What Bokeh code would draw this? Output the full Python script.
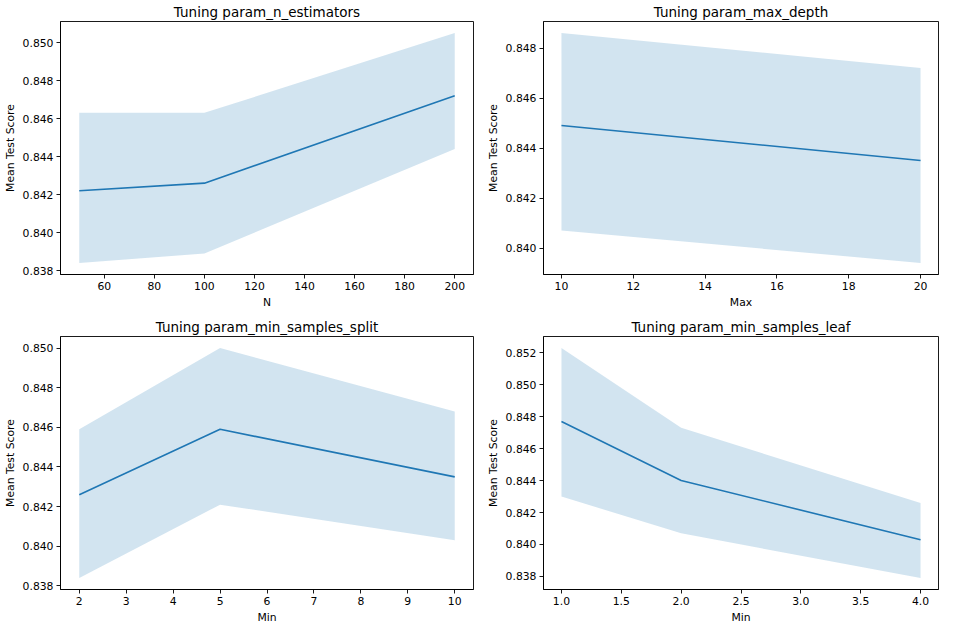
from bokeh.plotting import figure
from bokeh.layouts import column, row
from bokeh.models import Range1d, FixedTicker
from bokeh.embed import file_html
from bokeh.resources import INLINE

# ---- data ----
n_estimators = [50, 100, 200]
n_est_mean = [0.8422, 0.8426, 0.8472]
n_est_upper = [0.8463, 0.8463, 0.8505]
n_est_lower = [0.8384, 0.8389, 0.8444]

max_depth = [10, 20]
max_depth_mean = [0.8449, 0.8435]
max_depth_upper = [0.8486, 0.8472]
max_depth_lower = [0.8407, 0.8394]

min_split = [2, 5, 10]
min_split_mean = [0.8426, 0.8459, 0.8435]
min_split_upper = [0.8459, 0.8500, 0.8468]
min_split_lower = [0.8384, 0.8421, 0.8403]

min_leaf = [1, 2, 4]
min_leaf_mean = [0.8477, 0.8440, 0.8403]
min_leaf_upper = [0.8523, 0.8473, 0.8426]
min_leaf_lower = [0.8430, 0.8407, 0.8379]

titles = ["Tuning param_n_estimators", "Tuning param_max_depth",
          "Tuning param_min_samples_split", "Tuning param_min_samples_leaf"]
xlabels = ["N", "Max", "Min", "Min"]
ylabel = "Mean Test Score"

n_est_xticks = [60, 80, 100, 120, 140, 160, 180, 200]
n_est_xlabels = ["60", "80", "100", "120", "140", "160", "180", "200"]
n_est_yticks = [0.838, 0.840, 0.842, 0.844, 0.846, 0.848, 0.850]
n_est_ylabels = ["0.838", "0.840", "0.842", "0.844", "0.846", "0.848", "0.850"]

max_depth_xticks = [10, 12, 14, 16, 18, 20]
max_depth_xlabels = ["10", "12", "14", "16", "18", "20"]
max_depth_yticks = [0.840, 0.842, 0.844, 0.846, 0.848]
max_depth_ylabels = ["0.840", "0.842", "0.844", "0.846", "0.848"]

min_split_xticks = [2, 3, 4, 5, 6, 7, 8, 9, 10]
min_split_xlabels = ["2", "3", "4", "5", "6", "7", "8", "9", "10"]
min_split_yticks = [0.838, 0.840, 0.842, 0.844, 0.846, 0.848, 0.850]
min_split_ylabels = ["0.838", "0.840", "0.842", "0.844", "0.846", "0.848", "0.850"]

min_leaf_xticks = [1.0, 1.5, 2.0, 2.5, 3.0, 3.5, 4.0]
min_leaf_xlabels = ["1.0", "1.5", "2.0", "2.5", "3.0", "3.5", "4.0"]
min_leaf_yticks = [0.838, 0.840, 0.842, 0.844, 0.846, 0.848, 0.850, 0.852]
min_leaf_ylabels = ["0.838", "0.840", "0.842", "0.844", "0.846", "0.848", "0.850", "0.852"]

BLUE = "#1f77b4"
FONT = "DejaVu Sans"


def padded(lo, hi, frac=0.05):
    span = hi - lo
    return Range1d(lo - frac * span, hi + frac * span)


def panel(title, xlabel, x, mean, lower, upper, xt, xl, yt, yl,
          fw, fh, bl, br, bt, bb):
    p = figure(frame_width=fw, frame_height=fh, output_backend="svg",
               toolbar_location=None,
               x_range=padded(min(x), max(x)),
               y_range=padded(min(lower), max(upper)),
               min_border_left=bl, min_border_right=br,
               min_border_top=bt, min_border_bottom=bb)
    p.varea(x=x, y1=lower, y2=upper, fill_color=BLUE, fill_alpha=0.2)
    p.line(x, mean, line_color=BLUE, line_width=1.6)

    p.title.text = title
    p.title.align = "center"
    p.title.text_font = FONT
    p.title.text_font_size = "13.5px"
    p.title.text_font_style = "normal"
    p.title.text_color = "#000000"
    p.title.standoff = 3

    p.xgrid.grid_line_color = None
    p.ygrid.grid_line_color = None
    p.outline_line_color = "black"
    p.outline_line_width = 0.9
    p.outline_line_alpha = 1.0
    p.background_fill_color = "white"
    p.border_fill_color = "white"

    p.xaxis.ticker = FixedTicker(ticks=xt)
    p.xaxis.major_label_overrides = {t: s for t, s in zip(xt, xl)}
    p.yaxis.ticker = FixedTicker(ticks=yt)
    p.yaxis.major_label_overrides = {t: s for t, s in zip(yt, yl)}
    p.xaxis.axis_label = xlabel
    p.yaxis.axis_label = ylabel

    for ax in (p.xaxis, p.yaxis):
        ax.axis_line_color = "black"
        ax.axis_line_width = 0.9
        ax.major_tick_line_color = "black"
        ax.major_tick_line_width = 0.9
        ax.major_tick_out = 4
        ax.major_tick_in = 0
        ax.minor_tick_out = 0
        ax.minor_tick_in = 0
        ax.major_label_text_font = FONT
        ax.major_label_text_font_size = "10.8px"
        ax.major_label_text_color = "#000000"
        ax.major_label_standoff = 3
        ax.axis_label_text_font = FONT
        ax.axis_label_text_font_size = "10.8px"
        ax.axis_label_text_font_style = "normal"
        ax.axis_label_text_color = "#000000"
        ax.axis_label_standoff = 3
    return p


p1 = panel(titles[0], xlabels[0], n_estimators, n_est_mean, n_est_lower, n_est_upper,
           n_est_xticks, n_est_xlabels, n_est_yticks, n_est_ylabels,
           413, 253, 60, 10, 18, 40)
p2 = panel(titles[1], xlabels[1], max_depth, max_depth_mean, max_depth_lower, max_depth_upper,
           max_depth_xticks, max_depth_xlabels, max_depth_yticks, max_depth_ylabels,
           395, 253, 60, 2, 18, 40)
p3 = panel(titles[2], xlabels[2], min_split, min_split_mean, min_split_lower, min_split_upper,
           min_split_xticks, min_split_xlabels, min_split_yticks, min_split_ylabels,
           413, 253, 60, 10, 22, 35)
p4 = panel(titles[3], xlabels[3], min_leaf, min_leaf_mean, min_leaf_lower, min_leaf_upper,
           min_leaf_xticks, min_leaf_xlabels, min_leaf_yticks, min_leaf_ylabels,
           395, 253, 60, 2, 22, 35)

layout = column(row(p1, p2), row(p3, p4))

with open("out.html", "w") as f:
    f.write(file_html(layout, INLINE))
